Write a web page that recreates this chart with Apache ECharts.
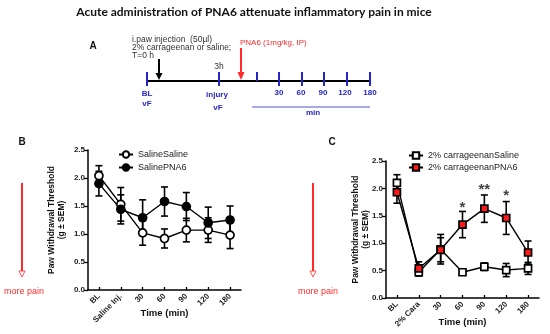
<!DOCTYPE html>
<html><head><meta charset="utf-8">
<script src="https://cdn.jsdelivr.net/npm/echarts@6/dist/echarts.min.js"></script>
<style>html,body{margin:0;padding:0;background:#fff}#c{width:550px;height:334px}</style>
</head><body><div id="c"></div>
<script>
// ---- Data ----
var catsB = ['BL', 'Saline Inj.', '30', '60', '90', '120', '180'];
var catsC = ['BL', '2% Cara', '30', '60', '90', '120', '180'];
var salineSaline = [2.04, 1.53, 1.02, 0.92, 1.07, 1.07, 0.98];
var salineSalineErr = [0.18, 0.30, 0.22, 0.17, 0.21, 0.22, 0.24];
var salinePNA6 = [1.90, 1.44, 1.29, 1.58, 1.49, 1.20, 1.25];
var salinePNA6Err = [0.22, 0.26, 0.32, 0.26, 0.25, 0.28, 0.25];
var caraSaline = [2.10, 0.47, 0.89, 0.47, 0.57, 0.51, 0.54];
var caraSalineErr = [0.15, 0.07, 0.27, 0.04, 0.07, 0.12, 0.11];
var caraPNA6 = [1.93, 0.54, 0.88, 1.34, 1.63, 1.46, 0.83];
var caraPNA6Err = [0.20, 0.12, 0.22, 0.24, 0.25, 0.30, 0.21];
var sigLabels = ['', '', '', '*', '**', '*', ''];
var sigY = [null, null, null, 1.65, 1.97, 1.86, null];
var yTicks = [0, 0.5, 1.0, 1.5, 2.0, 2.5];
var timelineLabels = ['30', '60', '90', '120', '180'];

var F = '"Liberation Sans", Arial, sans-serif';
var BLUE = '#2424c8';
var RED = '#ff2a2a';

function errSeries(name, xi, yi, vals, errs) {
  return {
    type: 'custom', name: name, xAxisIndex: xi, yAxisIndex: yi, z: 2, silent: true,
    data: vals.map(function (v, i) { return [i, v, errs[i]]; }),
    renderItem: function (params, api) {
      var x = api.value(0), m = api.value(1), e = api.value(2);
      var top = api.coord([x, m + e]), bot = api.coord([x, m - e]);
      var w = 3.5;
      var st = { stroke: '#000', lineWidth: 1.6 };
      return { type: 'group', children: [
        { type: 'line', shape: { x1: top[0], y1: top[1], x2: bot[0], y2: bot[1] }, style: st },
        { type: 'line', shape: { x1: top[0] - w, y1: top[1], x2: top[0] + w, y2: top[1] }, style: st },
        { type: 'line', shape: { x1: bot[0] - w, y1: bot[1], x2: bot[0] + w, y2: bot[1] }, style: st }
      ]};
    }
  };
}
function lineSeries(name, xi, yi, vals, symbol, fill, size) {
  return {
    type: 'line', name: name, xAxisIndex: xi, yAxisIndex: yi, z: 3,
    data: vals, symbol: symbol, symbolSize: size, showAllSymbol: true,
    lineStyle: { color: '#000', width: 1.4 },
    itemStyle: { color: fill, borderColor: '#000', borderWidth: 1.7, opacity: 1 }
  };
}
function yAx(gi, gap) {
  return {
    type: 'value', gridIndex: gi, min: 0, max: 2.5, interval: 0.5,
    name: 'Paw Withdrawal Threshold\n(g \u00b1 SEM)', nameLocation: 'middle', nameGap: gap, nameMoveOverlap: false,
    nameTextStyle: { fontFamily: F, fontSize: 8.5, fontWeight: 'bold', color: '#111', lineHeight: 10 },
    axisLine: { show: true, lineStyle: { color: '#000', width: 1.5 } },
    axisTick: { show: true, length: 4, lineStyle: { color: '#000', width: 1.3 } },
    axisLabel: { fontFamily: F, fontSize: 8, fontWeight: 'bold', color: '#222', margin: 3,
      formatter: function (v) { return v.toFixed(1); } },
    splitLine: { show: false }
  };
}
function xAx(gi, cats, gap) {
  return {
    type: 'category', gridIndex: gi, data: cats, boundaryGap: true,
    name: 'Time (min)', nameLocation: 'middle', nameGap: gap, nameMoveOverlap: false,
    nameTextStyle: { fontFamily: F, fontSize: 9.5, fontWeight: 'bold', color: '#111' },
    axisLine: { lineStyle: { color: '#000', width: 1.5 } },
    axisTick: { show: true, alignWithLabel: true, inside: true, length: 3, lineStyle: { color: '#000', width: 1.3 } },
    axisLabel: { fontFamily: F, fontSize: 8, fontWeight: 'bold', color: '#222', rotate: 45, margin: 5, interval: 0 }
  };
}
function painArrow(x, tx) {
  return [
    { type: 'line', shape: { x1: x, y1: 183, x2: x, y2: 271 }, style: { stroke: RED, lineWidth: 2 } },
    { type: 'polygon', shape: { points: [[x - 3, 271], [x + 3, 271], [x, 277]] }, style: { fill: '#fff', stroke: RED, lineWidth: 0.8 } },
    { type: 'text', x: tx, y: 292, style: { text: 'more pain', fill: RED, font: '9px ' + F, textAlign: 'center', textVerticalAlign: 'middle' } }
  ];
}

var chart = echarts.init(document.getElementById('c'), null, { renderer: 'canvas' });

var g = [];
// Title
g.push({ type: 'text', x: 254, y: 12, style: { text: 'Acute administration of PNA6 attenuate inflammatory pain in mice', font: 'bold 12px "Liberation Sans Narrow", Lato, sans-serif', fill: '#111', textAlign: 'center', textVerticalAlign: 'middle' } });
// Panel letters
g.push({ type: 'text', x: 93, y: 46, style: { text: 'A', font: 'bold 10px ' + F, fill: '#111', textAlign: 'center', textVerticalAlign: 'middle' } });
g.push({ type: 'text', x: 22, y: 142, style: { text: 'B', font: 'bold 10px ' + F, fill: '#111', textAlign: 'center', textVerticalAlign: 'middle' } });
g.push({ type: 'text', x: 332, y: 142, style: { text: 'C', font: 'bold 10px ' + F, fill: '#111', textAlign: 'center', textVerticalAlign: 'middle' } });
// Timeline
g.push({ type: 'line', shape: { x1: 147, y1: 81, x2: 371, y2: 81 }, style: { stroke: '#000', lineWidth: 2 } });
[147, 219, 279, 302, 324, 347, 370].forEach(function (x) {
  g.push({ type: 'line', shape: { x1: x, y1: 72, x2: x, y2: 86 }, style: { stroke: BLUE, lineWidth: 2 } });
});
g.push({ type: 'line', shape: { x1: 257, y1: 72, x2: 257, y2: 81 }, style: { stroke: BLUE, lineWidth: 2 } });
// black arrow
g.push({ type: 'line', shape: { x1: 159, y1: 59, x2: 159, y2: 74 }, style: { stroke: '#000', lineWidth: 2 } });
g.push({ type: 'polygon', shape: { points: [[155.5, 73], [162.5, 73], [159, 80]] }, style: { fill: '#000' } });
// red arrow
g.push({ type: 'line', shape: { x1: 241, y1: 48, x2: 241, y2: 74 }, style: { stroke: RED, lineWidth: 2 } });
g.push({ type: 'polygon', shape: { points: [[237.5, 72], [244.5, 72], [241, 80]] }, style: { fill: RED } });
var tf = '8.5px ' + F;
g.push({ type: 'text', x: 132, y: 40, style: { text: 'i.paw injection  (50\u00b5l)', font: tf, fill: '#333', textVerticalAlign: 'middle' } });
g.push({ type: 'text', x: 132, y: 48, style: { text: '2% carrageenan or saline;', font: tf, fill: '#333', textVerticalAlign: 'middle' } });
g.push({ type: 'text', x: 132, y: 56, style: { text: 'T=0 h', font: tf, fill: '#333', textVerticalAlign: 'middle' } });
g.push({ type: 'text', x: 219, y: 67, style: { text: '3h', font: tf, fill: '#333', textAlign: 'center', textVerticalAlign: 'middle' } });
g.push({ type: 'text', x: 240, y: 43, style: { text: 'PNA6 (1mg/kg, IP)', font: '8px ' + F, fill: RED, textVerticalAlign: 'middle' } });
var bf = 'bold 8px ' + F;
g.push({ type: 'text', x: 147, y: 94, style: { text: 'BL', font: bf, fill: BLUE, textAlign: 'center', textVerticalAlign: 'middle' } });
g.push({ type: 'text', x: 147, y: 104, style: { text: 'vF', font: bf, fill: BLUE, textAlign: 'center', textVerticalAlign: 'middle' } });
g.push({ type: 'text', x: 217, y: 95, style: { text: 'injury', font: bf, fill: BLUE, textAlign: 'center', textVerticalAlign: 'middle' } });
g.push({ type: 'text', x: 218, y: 108, style: { text: 'vF', font: bf, fill: BLUE, textAlign: 'center', textVerticalAlign: 'middle' } });
[279, 301, 323, 345, 370].forEach(function (x, i) {
  g.push({ type: 'text', x: x, y: 93, style: { text: timelineLabels[i], font: bf, fill: BLUE, textAlign: 'center', textVerticalAlign: 'middle' } });
});
g.push({ type: 'line', shape: { x1: 252, y1: 107, x2: 370, y2: 107 }, style: { stroke: BLUE, lineWidth: 0.8 } });
g.push({ type: 'text', x: 313, y: 113, style: { text: 'min', font: bf, fill: BLUE, textAlign: 'center', textVerticalAlign: 'middle' } });
// pain arrows
g = g.concat(painArrow(22, 24)).concat(painArrow(313, 318));

var option = {
  animation: false,
  backgroundColor: '#fff',
  textStyle: { fontFamily: F },
  grid: [
    { left: 88, top: 150, width: 153, height: 140 },
    { left: 386, top: 161, width: 153, height: 137 }
  ],
  xAxis: [xAx(0, catsB, 18), xAx(1, catsC, 19)],
  yAxis: [yAx(0, 21), yAx(1, 15)],
  legend: [
    { data: ['SalineSaline', 'SalinePNA6'], orient: 'vertical', left: 118, top: 150, padding: 0, itemGap: 4, itemWidth: 14, itemHeight: 8,
      textStyle: { fontFamily: F, fontSize: 9, color: '#222' } },
    { data: ['2% carrageenanSaline', '2% carrageenanPNA6'], orient: 'vertical', left: 408, top: 151, padding: 0, itemGap: 3, itemWidth: 14, itemHeight: 8,
      textStyle: { fontFamily: F, fontSize: 9, color: '#222' } }
  ],
  series: [
    errSeries('e1', 0, 0, salineSaline, salineSalineErr),
    errSeries('e2', 0, 0, salinePNA6, salinePNA6Err),
    lineSeries('SalineSaline', 0, 0, salineSaline, 'circle', '#fff', 8),
    lineSeries('SalinePNA6', 0, 0, salinePNA6, 'circle', '#000', 8),
    errSeries('e3', 1, 1, caraSaline, caraSalineErr),
    errSeries('e4', 1, 1, caraPNA6, caraPNA6Err),
    lineSeries('2% carrageenanSaline', 1, 1, caraSaline, 'rect', '#fff', 7),
    lineSeries('2% carrageenanPNA6', 1, 1, caraPNA6, 'rect', '#ff1a1a', 7),
    { type: 'scatter', name: 'sig', xAxisIndex: 1, yAxisIndex: 1, symbolSize: 0, z: 4, silent: true,
      data: sigY.map(function (v, i) { return v === null ? null : [i, v]; }),
      label: { show: true, position: 'inside', fontFamily: F, fontSize: 15, fontWeight: 'bold', color: '#111',
        formatter: function (p) { return sigLabels[p.dataIndex]; } } }
  ],
  graphic: g
};
chart.setOption(option);
</script></body></html>
